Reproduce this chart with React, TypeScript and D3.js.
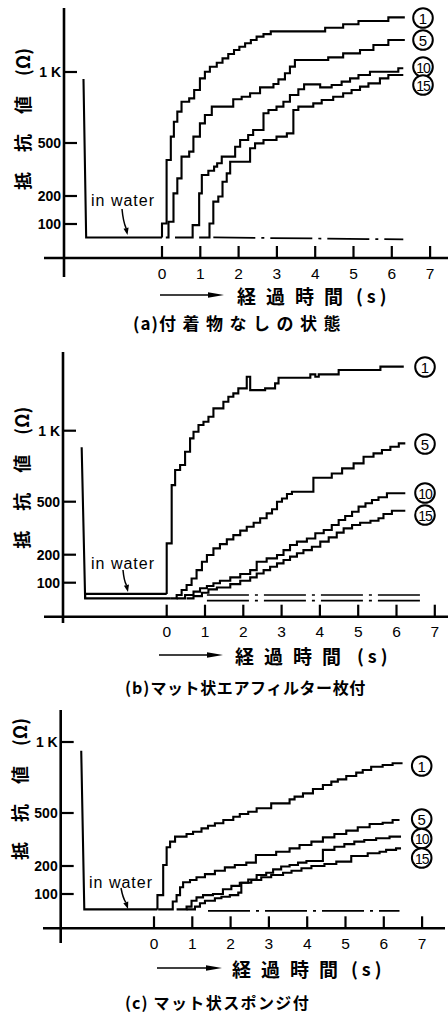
import React from 'react';
import * as d3 from 'd3';

type Pt = [number, number];

// ---------- shared labels ----------
const X_TICKS = [0, 1, 2, 3, 4, 5, 6, 7];
const Y_TICKS = [100, 200, 500, 1000];
const Y_TICK_LABELS = ['100', '200', '500', '1 K'];
const SERIES_LABELS = ['1', '5', '10', '15'];
const Y_TITLE_MAIN = '抵抗値';
const Y_TITLE_UNIT = '(Ω)';
const X_TITLE_MAIN = '経過時間';
const X_TITLE_UNIT = '(s)';
const WATER_LABEL = 'in water';
const CAPTIONS = ['(a)付着物なしの状態', '(b)マット状エアフィルター枚付', '(c) マット状スポンジ付'];

// ---------- panel (a): time [s], resistance [ohm] ----------
const A_BASE: Pt[] = [[-2.05, 950], [-1.98, 52], [0, 52]];
const A_C1: Pt[] = [[0, 52], [0, 102], [0.12, 404], [0.23, 545], [0.31, 650], [0.4, 721], [0.51, 791], [0.71, 814], [0.84, 873], [0.99, 955], [1.12, 1002], [1.25, 1037], [1.43, 1065], [1.58, 1096], [1.73, 1127], [1.88, 1155], [2.02, 1178], [2.17, 1202], [2.32, 1225], [2.47, 1249], [2.65, 1267], [2.84, 1286], [4.26, 1312], [4.73, 1336], [5.13, 1359], [5.91, 1385], [6.34, 1385]];
const A_C5: Pt[] = [[0.1, 52], [0.17, 108], [0.3, 215], [0.4, 300], [0.51, 423], [0.71, 451], [0.82, 545], [0.99, 638], [1.12, 697], [1.3, 756], [1.86, 808], [2.08, 826], [2.3, 850], [2.56, 892], [2.91, 916], [3.04, 948], [3.21, 991], [3.34, 1038], [3.47, 1084], [4.34, 1103], [4.73, 1131], [5.17, 1155], [5.52, 1190], [5.91, 1225], [6.34, 1225]];
const A_C10: Pt[] = [[0.34, 52], [0.8, 96], [0.97, 215], [1.04, 319], [1.21, 343], [1.36, 366], [1.44, 385], [1.56, 423], [1.91, 479], [2.04, 521], [2.25, 556], [2.38, 592], [2.65, 709], [2.78, 732], [2.99, 756], [3.17, 791], [3.34, 838], [3.56, 878], [3.71, 913], [4.13, 892], [4.43, 908], [4.69, 932], [4.91, 955], [5.13, 979], [5.43, 1002], [6.17, 1026], [6.3, 1026]];
const A_C15: Pt[] = [[0.97, 52], [1.24, 102], [1.34, 180], [1.47, 198], [1.58, 281], [1.69, 328], [1.78, 394], [2.3, 470], [2.43, 498], [2.65, 521], [2.99, 545], [3.26, 568], [3.43, 732], [3.56, 756], [3.95, 779], [4.17, 803], [4.47, 826], [4.73, 850], [4.95, 873], [5.17, 897], [5.39, 920], [5.69, 955], [5.91, 979], [6.3, 979]];
const A_TAILS: Pt[][] = [[[1.34, 52], [6.3, 45]]];

// ---------- panel (b) ----------
const B_BASE: Pt[] = [[-2.22, 883], [-2.13, 44], [0.09, 44]];
const B_BASE_UPPER: Pt[] = [[-2.13, 44], [-2.13, 60], [0, 60]];
const B_C1: Pt[] = [[0, 60], [0, 264], [0.13, 617], [0.22, 723], [0.35, 758], [0.48, 852], [0.61, 946], [0.7, 993], [0.83, 1040], [0.96, 1063], [1.09, 1098], [1.22, 1157], [1.48, 1204], [1.61, 1239], [1.74, 1263], [1.87, 1298], [2.09, 1380], [2.18, 1286], [2.57, 1298], [2.83, 1333], [2.92, 1373], [3.75, 1397], [3.88, 1380], [3.97, 1397], [4.49, 1427], [5.58, 1451], [6.19, 1451]];
const B_C5: Pt[] = [[0.09, 44], [0.26, 56], [0.39, 74], [0.52, 92], [0.65, 115], [0.78, 145], [0.92, 175], [1.05, 199], [1.22, 236], [1.39, 260], [1.57, 287], [1.74, 311], [1.92, 336], [2.09, 358], [2.27, 381], [2.44, 406], [2.61, 434], [2.75, 457], [2.88, 500], [3.01, 523], [3.14, 554], [3.27, 570], [3.83, 669], [4.31, 699], [4.58, 735], [4.88, 770], [5.14, 817], [5.4, 840], [5.62, 864], [5.84, 887], [6.06, 911], [6.23, 911]];
const B_C10: Pt[] = [[0.26, 44], [0.48, 56], [0.7, 68], [0.87, 80], [1.05, 88], [1.22, 98], [1.39, 107], [1.66, 119], [1.92, 131], [2.18, 145], [2.35, 175], [2.61, 187], [2.88, 199], [3.05, 226], [3.22, 255], [3.4, 274], [3.66, 292], [3.88, 321], [4.1, 340], [4.31, 368], [4.49, 396], [4.66, 419], [4.84, 443], [5.01, 472], [5.19, 491], [5.36, 512], [5.53, 531], [5.75, 559], [6.23, 559]];
const B_C15: Pt[] = [[0.52, 44], [0.7, 52], [0.92, 64], [1.09, 76], [1.31, 83], [1.66, 95], [1.92, 107], [2.18, 119], [2.35, 133], [2.53, 145], [2.7, 157], [2.88, 169], [3.05, 181], [3.22, 193], [3.4, 208], [3.57, 226], [3.79, 245], [4.01, 274], [4.23, 298], [4.44, 325], [4.62, 349], [4.84, 368], [5.05, 381], [5.32, 392], [5.53, 406], [5.66, 430], [5.88, 449], [6.23, 449]];
const B_TAILS: Pt[][] = [[[1.05, 56], [6.71, 56]], [[1.05, 36], [6.71, 36]]];

// ---------- panel (c) ----------
const C_BASE: Pt[] = [[-1.9, 939], [-1.82, 45], [0.09, 45]];
const C_C1: Pt[] = [[0.09, 45], [0.09, 96], [0.24, 206], [0.33, 306], [0.42, 338], [0.55, 366], [0.85, 381], [1.02, 394], [1.24, 413], [1.41, 428], [1.59, 442], [1.81, 460], [2.07, 479], [2.24, 494], [2.46, 509], [2.68, 533], [3.06, 568], [3.54, 596], [3.67, 615], [3.89, 638], [4.15, 669], [4.41, 697], [4.63, 721], [4.8, 737], [5.02, 761], [5.28, 784], [5.45, 803], [5.67, 826], [5.97, 838], [6.23, 850], [6.49, 850]];
const C_C5: Pt[] = [[0.11, 45], [0.49, 73], [0.59, 96], [0.68, 124], [0.76, 142], [0.94, 150], [1.11, 160], [1.33, 171], [1.59, 183], [1.85, 195], [2.11, 206], [2.41, 219], [2.66, 262], [3.19, 281], [3.54, 300], [3.8, 319], [4.11, 338], [4.41, 362], [4.71, 381], [5.02, 400], [5.32, 419], [5.63, 438], [5.97, 445], [6.23, 460], [6.41, 460]];
const C_C10: Pt[] = [[0.59, 45], [0.85, 55], [0.98, 76], [1.11, 88], [1.28, 96], [1.54, 100], [1.8, 117], [2.02, 129], [2.24, 140], [2.46, 152], [2.68, 168], [2.93, 176], [3.11, 188], [3.32, 198], [3.54, 206], [3.76, 219], [3.98, 228], [4.41, 291], [4.71, 309], [4.97, 324], [5.23, 338], [5.49, 347], [5.8, 357], [6.15, 366], [6.45, 366]];
const C_C15: Pt[] = [[0.85, 45], [1.07, 55], [1.2, 67], [1.33, 76], [1.59, 85], [1.76, 90], [1.98, 96], [2.2, 105], [2.28, 140], [2.54, 150], [2.8, 160], [3.06, 168], [3.37, 176], [3.59, 183], [3.85, 192], [4.11, 200], [4.45, 211], [4.76, 225], [5.15, 257], [5.58, 272], [5.89, 281], [6.06, 291], [6.32, 300], [6.45, 300]];
const C_TAILS: Pt[][] = [[[1.41, 40], [6.41, 40]]];

// ---------- layout (positions / styles, not data) ----------
const PX_PER_S = 38.3;
const Y_OFFSETS = [0, -28, -81, -152];
const JP = "'Noto Sans CJK JP', 'Noto Sans', sans-serif";
const LAT = "'Liberation Sans', Arial, sans-serif";

interface Layout {
  x0: number; axisX: number; axisTop: number; axisBottom: number; xAxisY: number; y100: number;
  xLeft: number; xRight: number; labelX: number; labelY: number[];
  water: number[]; xt: { y: number; a1: number; a2: number; tx: number; ux: number };
  cap: { x: number; y: number; size: number; ls: number };
  base: Pt[][]; curves: Pt[][]; tails: Pt[][];
}

const PANELS: Layout[] = [
  {
    x0: 162, axisX: 64, axisTop: 8, axisBottom: 277, xAxisY: 258, y100: 224, xLeft: 44, xRight: 448,
    labelX: 423, labelY: [18, 40, 67, 85],
    water: [91, 200, 122, 209, 127.5, 235],
    xt: { y: 295, a1: 160, a2: 224, tx: 237, ux: 356 },
    cap: { x: 133, y: 322, size: 17, ls: 6.5 },
    base: [A_BASE], curves: [A_C1, A_C5, A_C10, A_C15], tails: A_TAILS,
  },
  {
    x0: 166.7, axisX: 63, axisTop: 352, axisBottom: 623, xAxisY: 616.7, y100: 582.7, xLeft: 44, xRight: 448,
    labelX: 425, labelY: [367, 444, 493, 515],
    water: [91, 563, 123, 570, 128, 592],
    xt: { y: 655, a1: 159, a2: 223, tx: 235, ux: 357 },
    cap: { x: 125, y: 687, size: 16, ls: 0.6 },
    base: [B_BASE, B_BASE_UPPER], curves: [B_C1, B_C5, B_C10, B_C15], tails: B_TAILS,
  },
  {
    x0: 154, axisX: 60.7, axisTop: 710, axisBottom: 943, xAxisY: 928.3, y100: 894, xLeft: 43, xRight: 445,
    labelX: 421.7, labelY: [766, 819, 838.5, 858],
    water: [89, 882, 121, 888, 128, 909],
    xt: { y: 968, a1: 157, a2: 222, tx: 232, ux: 351 },
    cap: { x: 125, y: 1002, size: 16, ls: 1.4 },
    base: [C_BASE], curves: [C_C1, C_C5, C_C10, C_C15], tails: C_TAILS,
  },
];

function Arrow({ x1, y1, x2, y2, len = 7, half = 2.6 }: any) {
  const ang = Math.atan2(y2 - y1, x2 - x1);
  const bx = x2 - len * Math.cos(ang);
  const by = y2 - len * Math.sin(ang);
  const px = -Math.sin(ang) * half;
  const py = Math.cos(ang) * half;
  return (
    <g>
      <path d={`M${x1},${y1} Q${(x1 + x2) / 2 - 1.5},${(y1 + y2) / 2} ${bx},${by}`} fill="none" stroke="#000" strokeWidth={1.5} />
      <path d={`M${x2},${y2} L${bx + px},${by + py} L${bx - px},${by - py} Z`} fill="#000" />
    </g>
  );
}

function Panel({ p, caption }: { p: Layout; caption: string }) {
  const x = d3.scaleLinear().domain([0, 7]).range([p.x0, p.x0 + 7 * PX_PER_S]);
  const y = d3.scaleLinear().domain(Y_TICKS).range(Y_OFFSETS.map((o) => p.y100 + o));
  const step = d3.line<Pt>().x((d) => x(d[0])).y((d) => y(d[1])).curve(d3.curveStepAfter);
  const lin = d3.line<Pt>().x((d) => x(d[0])).y((d) => y(d[1]));
  const [wtx, wty, ax1, ay1, ax2, ay2] = p.water;
  const titleStart = p.y100 - 34;
  const cut = caption.indexOf(')') + 1;
  const capHead = caption.slice(0, cut);
  const capRest = caption.slice(cut);
  return (
    <g>
      {/* axes */}
      <line x1={p.axisX} x2={p.axisX} y1={p.axisTop} y2={p.axisBottom} stroke="#000" strokeWidth={2.6} />
      <line x1={p.xLeft} x2={p.xRight} y1={p.xAxisY} y2={p.xAxisY} stroke="#000" strokeWidth={2.6} />
      {X_TICKS.map((t) => (
        <g key={t}>
          <line x1={x(t)} x2={x(t)} y1={p.xAxisY} y2={p.xAxisY - 12} stroke="#000" strokeWidth={2.2} />
          <text x={x(t)} y={p.xAxisY + 15} dominantBaseline="central" textAnchor="middle" fontFamily={LAT} fontSize={15.5}>
            {t}
          </text>
        </g>
      ))}
      {Y_TICKS.map((v, i) => (
        <g key={v}>
          <line x1={p.axisX} x2={p.axisX + 13} y1={y(v)} y2={y(v)} stroke="#000" strokeWidth={2.2} />
          <text x={p.axisX - 3} y={y(v)} dominantBaseline="central" textAnchor="end" fontFamily={LAT} fontSize={14} fontWeight="bold">
            {Y_TICK_LABELS[i]}
          </text>
        </g>
      ))}
      {/* y title */}
      <g transform={`translate(${p.axisX - 42},${titleStart}) rotate(-90)`}>
        <text x={0} y={0} dominantBaseline="central" fontFamily={JP} fontSize={18} fontWeight="bold">
          <tspan style={{ letterSpacing: '20px' }}>{Y_TITLE_MAIN}</tspan>
          <tspan>{Y_TITLE_UNIT}</tspan>
        </text>
      </g>
      {/* data */}
      {p.base.map((d, i) => (
        <path key={'b' + i} d={lin(d) || ''} fill="none" stroke="#000" strokeWidth={2.1} />
      ))}
      {p.tails.map((d, i) => (
        <path key={'t' + i} d={lin(d) || ''} fill="none" stroke="#000" strokeWidth={1.7} strokeDasharray="42 6 3 6" />
      ))}
      {p.curves.map((d, i) => (
        <path key={'c' + i} d={step(d) || ''} fill="none" stroke="#000" strokeWidth={2.1} strokeLinejoin="miter" />
      ))}
      {/* series labels */}
      {SERIES_LABELS.map((s, i) => (
        <g key={s}>
          <circle cx={p.labelX} cy={p.labelY[i]} r={9.8} fill="#fff" stroke="#000" strokeWidth={2} />
          <text x={p.labelX} y={p.labelY[i] + 0.5} dominantBaseline="central" textAnchor="middle" fontFamily={LAT}
            fontSize={s.length > 1 ? 14 : 15} letterSpacing={s.length > 1 ? -1 : 0}>
            {s}
          </text>
        </g>
      ))}
      {/* in water annotation */}
      <text x={wtx} y={wty} dominantBaseline="central" fontFamily={LAT} fontSize={16} letterSpacing={1}>
        {WATER_LABEL}
      </text>
      <Arrow x1={ax1} y1={ay1} x2={ax2} y2={ay2} />
      {/* x title */}
      <line x1={p.xt.a1} x2={p.xt.a2 - 12} y1={p.xt.y} y2={p.xt.y} stroke="#000" strokeWidth={1.6} />
      <path d={`M${p.xt.a2},${p.xt.y} L${p.xt.a2 - 16},${p.xt.y - 2.8} L${p.xt.a2 - 16},${p.xt.y + 2.8} Z`} fill="#000" />
      <text x={p.xt.tx} y={p.xt.y} dominantBaseline="central" fontFamily={JP} fontSize={19} fontWeight="bold" style={{ letterSpacing: '10px' }}>
        {X_TITLE_MAIN}
      </text>
      <text x={p.xt.ux} y={p.xt.y} dominantBaseline="central" fontFamily={JP} fontSize={18} fontWeight="bold" style={{ letterSpacing: '4px' }}>
        {X_TITLE_UNIT}
      </text>
      {/* caption */}
      <text x={p.cap.x} y={p.cap.y} dominantBaseline="central" fontFamily={JP} fontSize={p.cap.size} fontWeight="bold">
        <tspan style={{ letterSpacing: '1px' }}>{capHead}</tspan>
        <tspan style={{ letterSpacing: p.cap.ls + 'px' }}>{capRest}</tspan>
      </text>
    </g>
  );
}

export default function App() {
  return (
    <svg width={448} height={1013} viewBox="0 0 448 1013"
      style={{ position: 'absolute', left: 0, top: 0, display: 'block', background: '#fff' }}>
      <rect x={0} y={0} width={448} height={1013} fill="#fff" />
      {PANELS.map((p, i) => (
        <Panel key={i} p={p} caption={CAPTIONS[i]} />
      ))}
    </svg>
  );
}
